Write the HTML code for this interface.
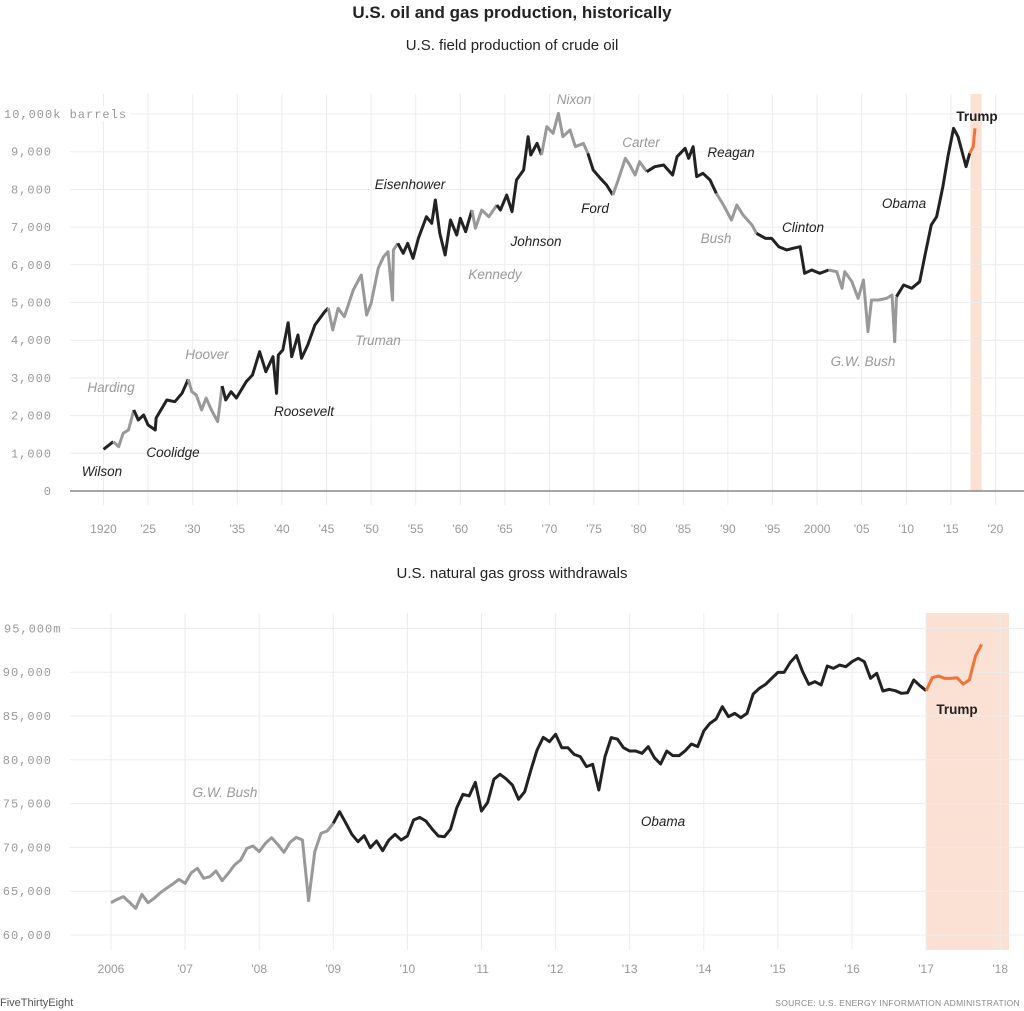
<!DOCTYPE html>
<html><head><meta charset="utf-8">
<style>
body{margin:0;background:#fff;}
svg{display:block;}
.t{font-family:"Liberation Sans",sans-serif;}
.m{font-family:"Liberation Mono",monospace;font-size:12px;letter-spacing:1px;fill:#999;}
.xl{font-family:"Liberation Sans",sans-serif;font-size:12px;fill:#999;}
.pl{font-family:"Liberation Sans",sans-serif;font-size:13.5px;font-style:italic;}
</style></head>
<body>
<svg id="chart" width="1024" height="1011" viewBox="0 0 1024 1011" xmlns="http://www.w3.org/2000/svg">
<text class="t" x="512" y="18" text-anchor="middle" font-size="17" font-weight="bold" fill="#222">U.S. oil and gas production, historically</text>
<text class="t" x="512" y="50" text-anchor="middle" font-size="15" fill="#222">U.S. field production of crude oil</text>
<text class="t" x="512" y="578" text-anchor="middle" font-size="15" fill="#222">U.S. natural gas gross withdrawals</text>
<g id="oil"></g>
<g id="gas"></g>
<text class="t" x="0" y="1006" font-size="11" fill="#555">FiveThirtyEight</text>
<text class="t" x="1020" y="1006" text-anchor="end" font-size="8.5" fill="#888" letter-spacing="0.3">SOURCE: U.S. ENERGY INFORMATION ADMINISTRATION</text>
</svg>
<script>
// ---- Oil data (thousand barrels/day, by fractional year) ----
const oilYears = [1920.0,1921.1,1921.7,1922.2,1922.8,1923.4,1923.9,1924.5,1925.0,1925.8,1925.9,1927.1,1928.0,1928.8,1929.5,1929.9,1930.4,1931.0,1931.5,1932.1,1932.8,1933.3,1933.7,1934.3,1934.9,1936.0,1936.7,1937.5,1938.2,1939.0,1939.4,1939.6,1940.1,1940.7,1941.1,1941.8,1942.2,1942.9,1943.7,1944.8,1945.2,1945.7,1946.3,1947.0,1948.0,1948.9,1949.5,1950.0,1950.8,1951.4,1951.9,1952.4,1952.5,1953.0,1953.6,1954.1,1954.7,1955.3,1956.2,1956.8,1957.2,1957.7,1958.3,1958.9,1959.6,1960.0,1960.6,1961.3,1961.7,1962.4,1963.2,1964.1,1964.5,1965.2,1965.8,1966.3,1967.1,1967.6,1967.9,1968.6,1969.1,1969.7,1970.4,1971.0,1971.5,1972.3,1972.9,1973.8,1974.3,1974.9,1975.7,1976.4,1977.1,1977.7,1978.5,1979.0,1979.6,1980.1,1980.9,1981.8,1982.8,1983.8,1984.3,1985.2,1985.6,1986.1,1986.5,1987.2,1988.0,1988.7,1989.5,1990.4,1991.0,1991.7,1992.7,1993.2,1994.2,1994.9,1995.7,1996.6,1997.3,1998.1,1998.6,1999.4,2000.3,2001.3,2002.2,2002.8,2003.1,2003.9,2004.6,2005.2,2005.7,2006.1,2006.9,2007.8,2008.4,2008.7,2008.9,2009.7,2010.6,2011.5,2012.1,2012.8,2013.4,2014.1,2014.7,2015.3,2015.8,2016.7,2017.1,2017.5,2017.7];
const oilValues = [1106,1308,1175,1530,1618,2149,1883,2016,1750,1618,1936,2414,2369,2591,2963,2634,2546,2149,2467,2149,1838,2785,2414,2634,2467,2900,3077,3695,3165,3563,2591,3607,3740,4464,3563,4138,3520,3873,4403,4756,4854,4271,4846,4623,5332,5729,4668,4978,5907,6215,6348,5066,6393,6569,6304,6569,6172,6702,7275,7100,7719,6835,6260,7188,6790,7233,6878,7454,6968,7454,7275,7586,7454,7851,7409,8249,8515,9398,8912,9222,8912,9663,9487,10017,9398,9576,9133,9222,8957,8515,8294,8117,7851,8249,8824,8647,8382,8735,8470,8603,8647,8382,8868,9090,8824,9133,8338,8426,8249,7895,7586,7188,7586,7321,7056,6835,6702,6702,6480,6393,6437,6480,5774,5862,5774,5862,5818,5377,5818,5552,5111,5597,4226,5066,5066,5111,5199,3961,5155,5464,5377,5552,6260,7056,7275,8072,8912,9620,9398,8603,8957,9133,9620];
const oilTerms = [1921.17,1923.6,1929.17,1933.17,1945.3,1953.05,1961.05,1963.9,1969.05,1974.6,1977.05,1981.05,1989.05,1993.05,2001.05,2009.05,2017.05,2100];
const oilYTicks = [0,1000,2000,3000,4000,5000,6000,7000,8000,9000,10000];
const oilXTicks = [1920,1925,1930,1935,1940,1945,1950,1955,1960,1965,1970,1975,1980,1985,1990,1995,2000,2005,2010,2015,2020];
const oilXLabels = ["1920","'25","'30","'35","'40","'45","'50","'55","'60","'65","'70","'75","'80","'85","'90","'95","2000","'05","'10","'15","'20"];
const oilPres = [["Wilson",102,471,0],["Harding",111,387,1],["Coolidge",173,452,0],["Hoover",207,354,1],["Roosevelt",304,411,0],["Truman",378,340,1],["Eisenhower",410,184,0],["Kennedy",495,274,1],["Johnson",536,241,0],["Nixon",574,99,1],["Ford",595,208,0],["Carter",641,142,1],["Reagan",731,152,0],["Bush",716,238,1],["Clinton",803,227,0],["G.W. Bush",863,361,1],["Obama",904,203,0]];

// ---- Gas data (million cubic feet/day, monthly from Jan 2006) ----
const gasValues = [63690,64070,64380,63730,63040,64640,63690,64190,64830,65330,65820,66350,65900,67110,67610,66470,66660,67310,66200,67040,67990,68560,69890,70160,69510,70460,71110,70350,69440,70580,71150,70840,63920,69510,71600,71870,72750,74080,72820,71490,70650,71340,69970,70730,69630,70840,71490,70840,71300,73130,73430,73010,72100,71300,71220,72100,74530,76060,75870,77430,74150,75140,77770,78340,77810,77120,75490,76360,78840,81120,82560,82070,82910,81380,81380,80620,80360,79220,79480,76550,80360,82530,82370,81380,81000,81000,80740,81500,80240,79520,81000,80470,80470,81040,81800,81500,83290,84160,84660,86060,84920,85300,84810,85300,87510,88160,88610,89300,89980,89980,91120,91890,90060,88610,88920,88540,90710,90440,90820,90630,91200,91580,91200,89300,89870,87850,88040,87890,87590,87660,89110,88460,87890,89370,89560,89300,89300,89370,88650,89110,91850,93180];
const gasYTicks = [60000,65000,70000,75000,80000,85000,90000,95000];
const gasXTicks = [2006,2007,2008,2009,2010,2011,2012,2013,2014,2015,2016,2017,2018];
const gasXLabels = ["2006","'07","'08","'09","'10","'11","'12","'13","'14","'15","'16","'17","'18"];

const NS = "http://www.w3.org/2000/svg";
function mk(tag, attrs, parent){const e=document.createElementNS(NS,tag);for(const k in attrs)e.setAttribute(k,attrs[k]);parent.appendChild(e);return e;}
const BLACK="#222", GRAY="#999", ORANGE="#f0743a";

// ---- Oil chart ----
const oil = document.getElementById('oil');
const ox = y => 103.5 + (y-1920)*8.92;
const oy = v => 491 - v*0.0377;
const shade1 = mk('rect',{x:ox(2017.2),y:94,width:ox(2018.45)-ox(2017.2),height:397,fill:"#fbe0d4"},oil);


oilXTicks.forEach((t,i)=>{
  const l=mk('line',{x1:ox(t),x2:ox(t),y1:94,y2:505,stroke:"#ececec","stroke-width":1},oil);
  
  
  const tx=mk('text',{x:ox(t),y:533,"text-anchor":"middle",class:"xl"},oil);
  tx.textContent=oilXLabels[i];
  
  
});
oilYTicks.forEach(v=>{
  if(v>0){
    const l=mk('line',{x1:70,x2:1024,y1:oy(v),y2:oy(v),stroke:"#ececec","stroke-width":1},oil);
    
    
  }
  const tx=mk('text',{x:v===10000?4:52,y:oy(v)+4,"text-anchor":v===10000?"start":"end",class:"m"},oil);
  tx.textContent=v.toLocaleString('en-US')+(v===10000?"k barrels":"");
  
  
  if(v===10000){const bg=mk('rect',{x:2,y:oy(v)-8,width:128,height:15,fill:"#fff"},oil);oil.insertBefore(bg,tx);}
});
const base=mk('line',{x1:70,x2:1024,y1:oy(0),y2:oy(0),stroke:"#888","stroke-width":1.5},oil);


function termIdx(y){for(let i=0;i<oilTerms.length;i++)if(y<oilTerms[i])return i;return oilTerms.length-1;}
function colorFor(i){if(i===oilTerms.length-1)return ORANGE;return i%2===0?BLACK:GRAY;}
(function(){
  let seg=[], cur=null;
  function flush(){ if(seg.length>1){const p=mk('polyline',{points:seg.map(s=>s.join(',')).join(' '),fill:"none",stroke:cur,"stroke-width":3,"stroke-linejoin":"round"},oil);
    
    }}
  for(let i=0;i<oilYears.length-1;i++){
    const mid=(oilYears[i]+oilYears[i+1])/2;
    const c=colorFor(termIdx(mid));
    if(c!==cur){flush();seg=[[ox(oilYears[i]),oy(oilValues[i])]];cur=c;}
    seg.push([ox(oilYears[i+1]),oy(oilValues[i+1])]);
  }
  flush();
})();
oilPres.forEach(p=>{
  const tx=mk('text',{x:p[1],y:p[2]+5,"text-anchor":"middle",class:"pl",fill:p[3]?"#999":"#222"},oil);
  tx.textContent=p[0];
  
  
});
const tr1=mk('text',{x:977,y:121,"text-anchor":"middle",class:"t","font-size":"13.5","font-weight":"bold",fill:"#222"},oil);
tr1.textContent="Trump";



// ---- Gas chart ----
const gas=document.getElementById('gas');
const gx = y => 111 + (y-2006)*74.1;
const gy = v => 935 - (v-60000)*0.00876;
const shade2=mk('rect',{x:gx(2017),y:613,width:1009-gx(2017),height:337,fill:"#fbe0d4"},gas);


gasXTicks.forEach((t,i)=>{
  const l=mk('line',{x1:gx(t),x2:gx(t),y1:613,y2:950,stroke:"#ececec","stroke-width":1},gas);
  
  
  const tx=mk('text',{x:gx(t),y:973,"text-anchor":"middle",class:"xl"},gas);
  tx.textContent=gasXLabels[i];
  
  
});
gasYTicks.forEach(v=>{
  const l=mk('line',{x1:70,x2:1024,y1:gy(v),y2:gy(v),stroke:"#ececec","stroke-width":1},gas);
  
  
  const top=v===95000;
  const tx=mk('text',{x:top?4:52,y:gy(v)+4,"text-anchor":top?"start":"end",class:"m"},gas);
  tx.textContent=v.toLocaleString('en-US')+(top?"m":"");
  
  
  if(top){const bg=mk('rect',{x:2,y:gy(v)-8,width:64,height:15,fill:"#fff"},gas);gas.insertBefore(bg,tx);}
});
(function(){
  const mx=i=>gx(2006+i/12);
  const groups=[[0,36,GRAY],[36,132,BLACK],[132,gasValues.length-1,ORANGE]];
  groups.forEach(g=>{
    const pts=[];
    for(let i=g[0];i<=g[1];i++)pts.push(mx(i)+','+gy(gasValues[i]));
    const p=mk('polyline',{points:pts.join(' '),fill:"none",stroke:g[2],"stroke-width":3,"stroke-linejoin":"round"},gas);
    
    
  });
})();
[["G.W. Bush",225,792,"#999","italic","normal"],["Obama",663,821,"#222","italic","normal"],["Trump",957,709,"#222","normal","bold"]].forEach(p=>{
  const tx=mk('text',{x:p[1],y:p[2]+5,"text-anchor":"middle",class:"t","font-size":"13.5","font-style":p[4],"font-weight":p[5],fill:p[3]},gas);
  tx.textContent=p[0];
  
  
});
</script>
</body></html>
